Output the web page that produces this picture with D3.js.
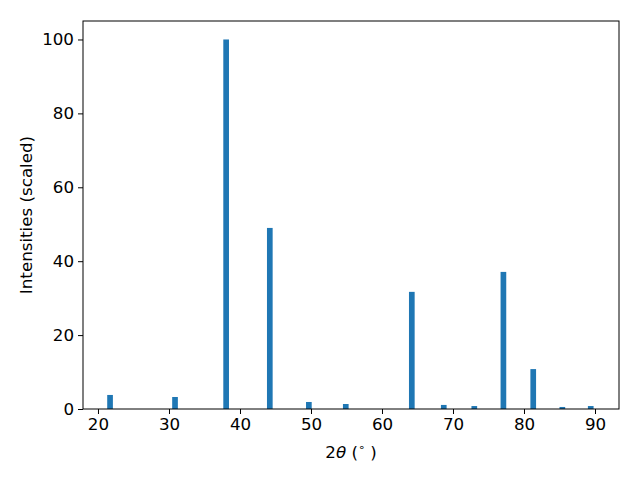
<!DOCTYPE html>
<html><head><meta charset="utf-8">
<script src="https://cdn.jsdelivr.net/npm/d3@7"></script>
<style>body{margin:0;background:#fff}</style>
</head><body>
<script>
const angles = [21.7, 30.85, 38.05, 44.2, 49.7, 54.9, 64.2, 68.7, 73.0, 77.1, 81.3, 85.4, 89.4];
const intensities = [3.8, 3.25, 100, 49, 1.9, 1.35, 31.7, 1.1, 0.8, 37.1, 10.8, 0.55, 0.8];
const xTicks = [20, 30, 40, 50, 60, 70, 80, 90];
const yTicks = [0, 20, 40, 60, 80, 100];

const W = 640, H = 480;
const m = {l: 83, r: 21, t: 21, b: 71};
const font = "'DejaVu Sans', sans-serif";
const svg = d3.select("body").append("svg").attr("width", W).attr("height", H);
const x = d3.scaleLinear().domain([17.89, 93.38]).range([m.l, W - m.r]);
const y = d3.scaleLinear().domain([0, 105.0]).range([H - m.b, m.t]);
const barW = 0.8;

svg.append("g").selectAll("rect").data(angles).join("rect")
  .attr("x", (d) => x(d - barW / 2))
  .attr("width", (d) => x(d + barW / 2) - x(d - barW / 2))
  .attr("y", (d, i) => y(intensities[i]))
  .attr("height", (d, i) => y(0) - y(intensities[i]))
  .attr("fill", "#1f77b4");

const xa = svg.append("g").attr("transform", `translate(0,${H - m.b})`)
  .call(d3.axisBottom(x).tickValues(xTicks).tickSize(5).tickPadding(4).tickFormat(d3.format("d")));
const ya = svg.append("g").attr("transform", `translate(${m.l},0)`)
  .call(d3.axisLeft(y).tickValues(yTicks).tickSize(5).tickPadding(4).tickFormat(d3.format("d")));
[xa, ya].forEach(a => {
  a.select(".domain").remove();
  a.selectAll("line").attr("stroke", "#000").attr("stroke-width", 1);
  a.selectAll("text").attr("font-family", font).attr("font-size", "16.7px").attr("fill", "#000");
});
svg.append("rect").attr("x", m.l).attr("y", m.t).attr("width", W - m.l - m.r).attr("height", H - m.t - m.b)
  .attr("fill", "none").attr("stroke", "#000").attr("stroke-width", 1);

const xl = svg.append("text").attr("x", (m.l + W - m.r) / 2).attr("y", 458)
  .attr("text-anchor", "middle").attr("font-family", font).attr("font-size", "16.7px");
xl.append("tspan").text("2");
xl.append("tspan").attr("font-style", "italic").text("θ");
xl.append("tspan").text(" (");
xl.append("tspan").attr("font-size", "11px").attr("dy", -7).text("∘");
xl.append("tspan").attr("dy", 7).text(" )");

svg.append("text").attr("transform", `translate(32,${(m.t + H - m.b) / 2}) rotate(-90)`)
  .attr("text-anchor", "middle").attr("font-family", font).attr("font-size", "16.7px")
  .text("Intensities (scaled)");
</script>
</body></html>
